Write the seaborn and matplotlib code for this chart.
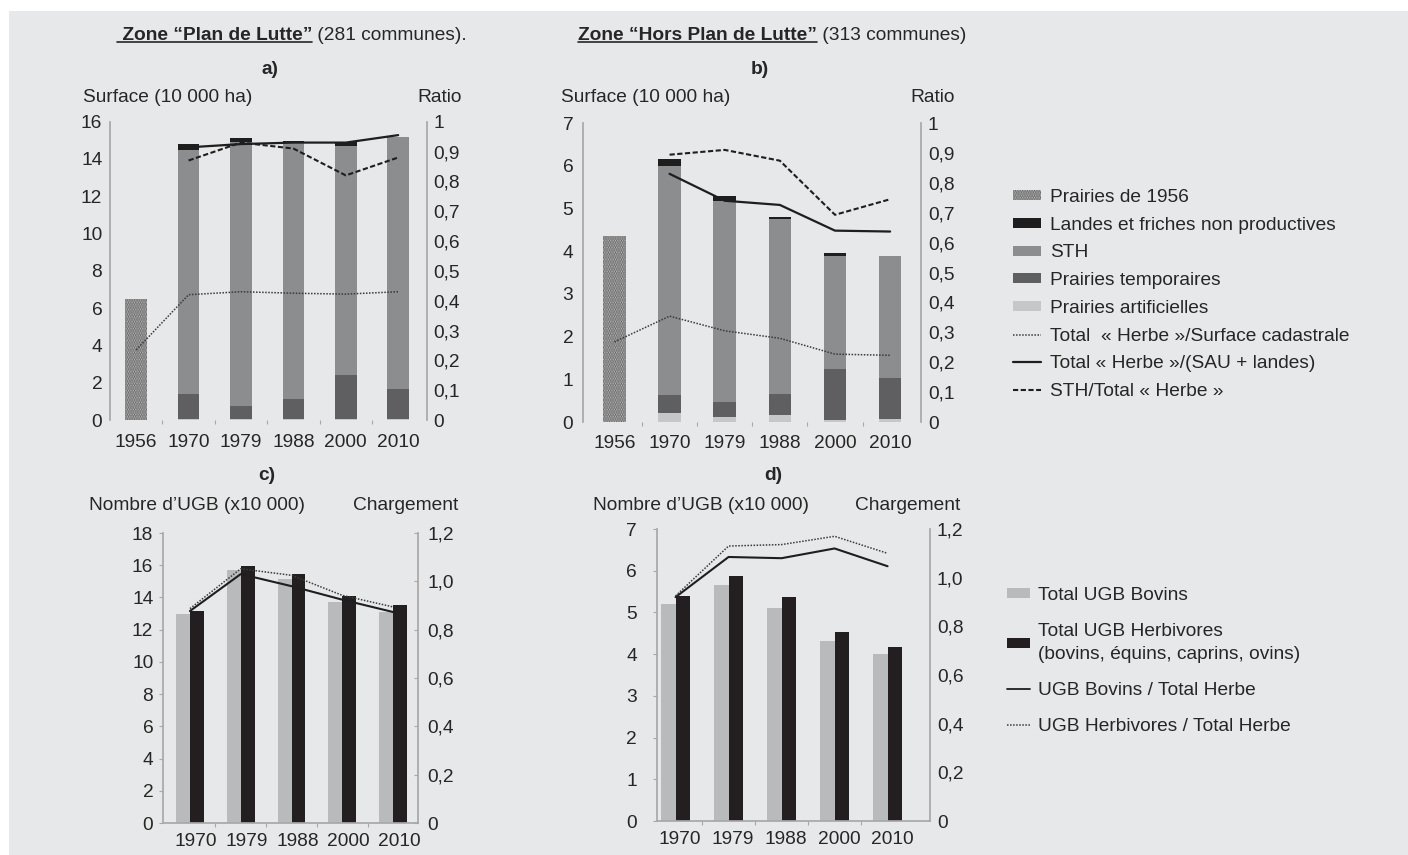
import numpy as np
import pandas as pd
import matplotlib
matplotlib.use("Agg")
import matplotlib.pyplot as plt
import seaborn as sns
from matplotlib.patches import Rectangle
from matplotlib.lines import Line2D
from matplotlib.transforms import IdentityTransform
from matplotlib.ticker import FuncFormatter

# Données
annees_surf = ['1956', '1970', '1979', '1988', '2000', '2010']
annees_ugb = ['1970', '1979', '1988', '2000', '2010']

# a) Zone "Plan de Lutte" (10 000 ha)
a_prairies_1956 = [6.5, 0, 0, 0, 0, 0]
a_artificielles = [0, 0.06, 0.05, 0.05, 0.03, 0.03]
a_temporaires = [0, 1.36, 0.70, 1.06, 2.38, 1.61]
a_sth = [0, 13.06, 14.18, 13.82, 12.30, 13.56]
a_landes = [0, 0.32, 0.17, 0.05, 0.22, 0.0]
a_herbe_cadastre = [0.235, 0.42, 0.43, 0.425, 0.422, 0.43]
a_herbe_sau = [np.nan, 0.914, 0.925, 0.93, 0.93, 0.955]
a_sth_herbe = [np.nan, 0.87, 0.93, 0.91, 0.82, 0.88]

# b) Zone "Hors Plan de Lutte"
b_prairies_1956 = [4.36, 0, 0, 0, 0, 0]
b_artificielles = [0, 0.20, 0.12, 0.16, 0.05, 0.08]
b_temporaires = [0, 0.43, 0.35, 0.49, 1.18, 0.95]
b_sth = [0, 5.37, 4.71, 4.10, 2.66, 2.86]
b_landes = [0, 0.15, 0.11, 0.06, 0.06, 0.0]
b_herbe_cadastre = [0.268, 0.354, 0.305, 0.28, 0.227, 0.223]
b_herbe_sau = [np.nan, 0.83, 0.74, 0.726, 0.64, 0.637]
b_sth_herbe = [np.nan, 0.894, 0.91, 0.874, 0.693, 0.745]

# c) UGB Plan de Lutte (x10 000)
c_bovins = [12.95, 15.68, 15.17, 13.72, 13.10]
c_herbivores = [13.16, 15.93, 15.44, 14.09, 13.55]
c_charge_bovins = [0.877, 1.03, 0.98, 0.924, 0.873]
c_charge_herbivores = [0.887, 1.052, 1.025, 0.942, 0.894]

# d) UGB Hors Plan de Lutte
d_bovins = [5.20, 5.65, 5.10, 4.32, 4.00]
d_herbivores = [5.40, 5.88, 5.38, 4.54, 4.18]
d_charge_bovins = [0.92, 1.085, 1.08, 1.12, 1.047]
d_charge_herbivores = [0.925, 1.13, 1.136, 1.17, 1.10]

W, H = 1408, 855
FS = 13.8
TXT = '#262626'
SPINE = '#a8a8a8'
BG = '#e7e8ea'

sns.set_theme(style='white')
plt.rcParams['font.family'] = ['Liberation Sans', 'DejaVu Sans']
plt.rcParams['text.color'] = TXT
plt.rcParams['hatch.linewidth'] = 1.4

fig = plt.figure(figsize=(W / 100, H / 100), dpi=100, facecolor='white')
fig.patches.append(Rectangle((9 / W, 0), 1, 1 - 11 / H, transform=fig.transFigure,
                             facecolor=BG, edgecolor='none', zorder=-10))


def box(x0, y0, x1, y1):
    # position des axes en pixels de l'image -> fraction de la figure
    return [x0 / W, 1 - y1 / H, (x1 - x0) / W, (y1 - y0) / H]


def ftext(x, y, s, **kw):
    return fig.text(x / W, 1 - y / H, s, fontsize=FS, **kw)


comma = FuncFormatter(lambda v, p: ('%g' % round(v, 2)).replace('.', ','))
comma1 = FuncFormatter(lambda v, p: '0' if v == 0 else ('%.1f' % v).replace('.', ','))


def style_axes(ax, ax2, bottom_spine, lpad, rpad, ltick, rtick, bpad):
    for a in (ax, ax2):
        a.set_facecolor('none')
        for s in a.spines.values():
            s.set_visible(False)
    ax.spines['left'].set_visible(True)
    ax.spines['left'].set_color(SPINE)
    ax2.spines['right'].set_visible(True)
    ax2.spines['right'].set_color(SPINE)
    if bottom_spine:
        ax.spines['bottom'].set_visible(True)
        ax.spines['bottom'].set_color(SPINE)
    ax.tick_params(axis='y', left=ltick > 0, length=ltick, width=0.8, color=SPINE,
                   pad=lpad, labelsize=FS, labelcolor=TXT)
    ax2.tick_params(axis='y', right=rtick > 0, length=rtick, width=0.8, color=SPINE,
                    direction='in', pad=rpad, labelsize=FS, labelcolor=TXT)
    ax.tick_params(axis='x', which='major', length=0, pad=bpad, labelsize=FS, labelcolor=TXT)
    ax.tick_params(axis='x', which='minor', bottom=True, length=3, width=0.8, color=SPINE)
    ax.set_xlabel('')
    ax.set_ylabel('')
    ax2.set_ylabel('')


col_1956 = '#c4c4c4'
col_landes = '#1e1e1e'
col_sth = '#8c8d8f'
col_temp = '#5f5f61'
col_art = '#c6c7c9'


def surface_panel(rect, xlim, ymax, p1956, art, temp, sth, landes, r_cad, r_sau, r_sth):
    ax = fig.add_axes(rect)
    x = np.arange(len(annees_surf))
    w = 0.41
    art = np.array(art)
    temp = np.array(temp)
    sth = np.array(sth)
    h1956 = ax.bar(x, p1956, w, color=col_1956, edgecolor='#5e5e5e', linewidth=0,
                   hatch='.......')
    b_landes = ax.bar(x, landes, w, bottom=art + temp + sth, color=col_landes, linewidth=0)
    b_sth = ax.bar(x, sth, w, bottom=art + temp, color=col_sth, linewidth=0)
    b_temp = ax.bar(x, temp, w, bottom=art, color=col_temp, linewidth=0)
    b_art = ax.bar(x, art, w, color=col_art, linewidth=0)
    ax.set_ylim(0, ymax)
    ax.set_yticks(np.arange(0, ymax + 1, 2 if ymax > 10 else 1))
    ax2 = ax.twinx()
    sns.lineplot(x=x, y=r_cad, ax=ax2, color='#3a3a3a', lw=1.1, linestyle=(0, (1, 1)))
    sns.lineplot(x=x, y=r_sau, ax=ax2, color='#1e1e1e', lw=1.6)
    sns.lineplot(x=x, y=r_sth, ax=ax2, color='#1e1e1e', lw=1.5, linestyle=(0, (2.5, 1.2)))
    ax2.set_ylim(0, 1)
    ax2.set_yticks(np.arange(0, 1.01, 0.1))
    ax2.yaxis.set_major_formatter(comma)
    ax.set_xlim(*xlim)
    ax.set_xticks(x, annees_surf)
    ax.set_xticks(x[:-1] + 0.5, minor=True)
    handles = [h1956, b_landes, b_sth, b_temp, b_art] + ax2.get_lines()[:3]
    return ax, ax2, handles


def ugb_panel(rect, xlim, ymax, yticks, bov, herb, ch_bov, ch_herb, lab_shift):
    ax = fig.add_axes(rect)
    df = pd.DataFrame({'annee': annees_ugb * 2,
                       'ugb': list(bov) + list(herb),
                       'type': ['Bovins'] * 5 + ['Herbivores'] * 5})
    sns.barplot(data=df, x='annee', y='ugb', hue='type', palette=['#b9babc', '#231f20'],
                width=0.55, saturation=1, errorbar=None, legend=False, linewidth=0, ax=ax)
    ax.set_ylim(0, ymax)
    ax.set_yticks(yticks)
    ax2 = ax.twinx()
    x = np.arange(5)
    sns.lineplot(x=x, y=ch_bov, ax=ax2, color='#1e1e1e', lw=1.5)
    sns.lineplot(x=x, y=ch_herb, ax=ax2, color='#3a3a3a', lw=1.1, linestyle=(0, (1, 1)))
    ax2.set_ylim(0, 1.2)
    ax2.set_yticks(np.arange(0, 1.21, 0.2))
    ax2.yaxis.set_major_formatter(comma1)
    ax.set_xlim(*xlim)
    ax.set_xticks(x + lab_shift, annees_ugb)
    ax.set_xticks(x[:-1] + 0.5, minor=True)
    return ax, ax2


# a)
ax_a, ax_a2, leg_handles = surface_panel(box(110, 121.7, 427, 420), (-0.5, 5.55), 16,
                                         a_prairies_1956, a_artificielles, a_temporaires,
                                         a_sth, a_landes, a_herbe_cadastre, a_herbe_sau,
                                         a_sth_herbe)
style_axes(ax_a, ax_a2, False, 5.5, 4.5, 0, 0, 10)

# b)
ax_b, ax_b2, _ = surface_panel(box(583, 123, 921, 422), (-0.57, 5.56), 7,
                               b_prairies_1956, b_artificielles, b_temporaires,
                               b_sth, b_landes, b_herbe_cadastre, b_herbe_sau, b_sth_herbe)
style_axes(ax_b, ax_b2, False, 7, 5, 0, 0, 9)

# c)
ax_c, ax_c2 = ugb_panel(box(163, 533, 418, 823), (-0.53, 4.49), 18, np.arange(0, 19, 2),
                        c_bovins, c_herbivores, c_charge_bovins, c_charge_herbivores, 0.12)
style_axes(ax_c, ax_c2, True, 4, 6.5, 3, 3, 7)

# d)
ax_d, ax_d2 = ugb_panel(box(657, 529, 930, 821), (-0.35, 4.8), 7, np.arange(0, 8, 1),
                        d_bovins, d_herbivores, d_charge_bovins, d_charge_herbivores, 0.08)
style_axes(ax_d, ax_d2, True, 11.5, 5, 3, 0, 7.5)

# textes
ta = ftext(117, 36, ' Zone “Plan de Lutte”', weight='bold', ha='left', va='center')
tb = ftext(578, 36, 'Zone “Hors Plan de Lutte”', weight='bold', ha='left', va='center')
ftext(270, 70, 'a)', weight='bold', ha='center', va='center')
ftext(760, 70, 'b)', weight='bold', ha='center', va='center')
ftext(267, 475, 'c)', weight='bold', ha='center', va='center')
ftext(773, 475, 'd)', weight='bold', ha='center', va='center')
ftext(83, 97, 'Surface (10 000 ha)', ha='left', va='center')
ftext(462, 97, 'Ratio', ha='right', va='center')
ftext(561, 97, 'Surface (10 000 ha)', ha='left', va='center')
ftext(955, 97, 'Ratio', ha='right', va='center')
ftext(89, 505, 'Nombre d’UGB (x10 000)', ha='left', va='center')
ftext(458, 505, 'Chargement', ha='right', va='center')
ftext(593, 505, 'Nombre d’UGB (x10 000)', ha='left', va='center')
ftext(960, 505, 'Chargement', ha='right', va='center')

fig.canvas.draw()
rend = fig.canvas.get_renderer()
for t, rest in ((ta, ' (281 communes).'), (tb, ' (313 communes)')):
    bb = t.get_window_extent(rend)
    fig.text(bb.x1, (bb.y0 + bb.y1) / 2, rest, transform=IdentityTransform(),
             fontsize=FS, ha='left', va='center')
    fig.add_artist(Line2D([bb.x0, bb.x1], [bb.y0 + 2, bb.y0 + 2], color=TXT, lw=1.2,
                          transform=IdentityTransform()))

# légendes
labels1 = ['Prairies de 1956', 'Landes et friches non productives', 'STH',
           'Prairies temporaires', 'Prairies artificielles',
           'Total  « Herbe »/Surface cadastrale', 'Total « Herbe »/(SAU + landes)',
           'STH/Total « Herbe »']
fig.legend(leg_handles, labels1, loc='upper left', bbox_to_anchor=(1013 / W, 1 - 189 / H),
           frameon=False, fontsize=FS, handlelength=1.45, handleheight=0.42,
           handletextpad=0.5, labelspacing=0.56, borderpad=0, borderaxespad=0)

h_bov = Rectangle((0, 0), 1, 1, facecolor='#b9babc', edgecolor='none')
h_herb = Rectangle((0, 0), 1, 1, facecolor='#231f20', edgecolor='none')
l_bov = Line2D([], [], color='#1e1e1e', lw=1.3)
l_herb = Line2D([], [], color='#3a3a3a', lw=1.1, linestyle=(0, (1, 1)))
labels2 = ['Total UGB Bovins', 'Total UGB Herbivores\n(bovins, équins, caprins, ovins)',
           'UGB Bovins / Total Herbe', 'UGB Herbivores / Total Herbe']
leg2 = fig.legend([h_bov, h_herb, l_bov, l_herb], labels2, loc='upper left',
                  bbox_to_anchor=(1007 / W, 1 - 587 / H), frameon=False, fontsize=FS,
                  handlelength=1.2, handleheight=0.45, handletextpad=0.42,
                  labelspacing=0.98, borderpad=0, borderaxespad=0)
leg2.get_texts()[1].set_linespacing(1.5)

fig.savefig('out.png', dpi=100, facecolor='white')
